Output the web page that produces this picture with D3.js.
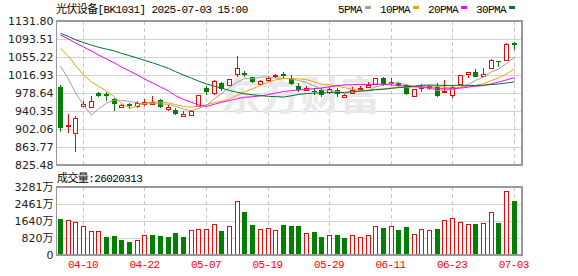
<!DOCTYPE html>
<html>
<head>
<meta charset="utf-8">
<script src="https://cdn.jsdelivr.net/npm/d3@7"></script>
<style>
  html, body { margin: 0; padding: 0; background: #fff; }
  svg { display: block; }
  .mono { font-family: "Liberation Mono", "Noto Sans CJK SC", monospace; font-size: 11px; letter-spacing: -0.6px; }
  .axis text { font-family: "DejaVu Sans", "Noto Sans CJK SC", sans-serif; font-size: 11px; fill: #222; }
  .axis path, .axis line { display: none; }
</style>
</head>
<body>
<svg id="chart" width="578" height="276"></svg>
<script>
// ---- data ----
const dates = ["04-07","04-08","04-09","04-10","04-11","04-14","04-15","04-16","04-17","04-18",
  "04-21","04-22","04-23","04-24","04-25","04-28","04-29","04-30","05-06","05-07",
  "05-08","05-09","05-12","05-13","05-14","05-15","05-16","05-19","05-20","05-21",
  "05-22","05-23","05-26","05-27","05-28","05-29","05-30","06-03","06-04","06-05",
  "06-06","06-09","06-10","06-11","06-12","06-13","06-16","06-17","06-18","06-19",
  "06-20","06-23","06-24","06-25","06-26","06-27","06-30","07-01","07-02","07-03"];

const open = [992, 908, 892.9, 951.8, 949.5, 978, 975.9, 965.9, 948.2, 954.6,
  950, 956, 955, 963.7, 945, 942.5, 929, 931.9, 951.6, 989,
  978, 1000.6, 995.7, 1019.1, 1020.6, 1012, 998.4, 1006.3, 1015.5, 1019,
  1009.9, 993.5, 985, 983, 985, 980, 985, 971, 978, 987.6,
  992, 997, 1009.9, 999, 999, 996, 973, 989, 989, 992,
  980.2, 974.4, 997.1, 1019.7, 1024, 1014.8, 1031.2, 1047, 1048.8, 1085.6];
const high = [995.7, 934, 930.4, 962, 972.3, 981.4, 980.2, 968.7, 955, 958,
  962.3, 965.2, 972.9, 966.6, 953, 946, 940, 943, 975, 993,
  1006.3, 1002.7, 1009, 1057.4, 1026, 1013, 1006, 1014.8, 1020, 1023,
  1016, 1000, 994, 990, 989, 991, 989, 977, 991, 993,
  1002, 1011, 1012, 1010, 1002, 998, 988, 997, 995, 999,
  1006, 994, 1017, 1023, 1029, 1031, 1050, 1047, 1084.4, 1087.8];
const low = [896.3, 894, 852.1, 949, 946.1, 970.8, 962.3, 941, 946, 944.6,
  946.1, 951, 953, 946, 940, 932, 928, 930, 950, 975,
  974.4, 983.6, 994, 1013.3, 1012, 999, 996, 1002.7, 1010, 1009,
  995, 981, 983, 975, 970, 977, 971, 968, 976, 983,
  990, 996, 993.5, 995, 991, 974, 972, 981, 985, 970,
  979, 968, 995, 1010, 1012, 1013, 1029, 1034.6, 1047, 1070.4];
const close = [904.8, 911, 924.8, 954.6, 962.3, 972.9, 972.3, 954.6, 953.1, 951.0,
  957, 960.5, 960, 948.2, 948, 933.4, 933, 941.1, 974.4, 981,
  1004.2, 986.5, 1007.8, 1031.2, 1017.6, 1001.4, 1004.2, 1010.5, 1017.6, 1015.5,
  997.1, 985, 990, 980, 974.4, 988, 975.9, 975, 986, 990,
  995.7, 1009.9, 997.8, 1002.7, 995.7, 976, 986.5, 992, 993, 972.3,
  982, 992, 1016.3, 1022.7, 1013.3, 1018.4, 1048.8, 1044.3, 1082.2, 1081.5];
const prevClose = 1050;

// volume in 万
const volume = [1737, 1672, 1576, 1383, 1142, 1142, 868, 917, 724, 627,
  708, 965, 949, 917, 868, 1061, 868, 1190, 1238, 1254,
  1479, 1158, 1383, 2605, 2074, 1447, 1238, 1286, 1190, 1447,
  1399, 1399, 1045, 1110, 884, 949, 965, 820, 949, 868,
  949, 1383, 1319, 1383, 1206, 1351, 997, 1238, 1190, 1254,
  1672, 1769, 1608, 1479, 1479, 1528, 2058, 1544, 3071, 2602];

const ma5 = [1036, 1008, 979, 953, 931.5, 945.1, 957.4, 963.3, 963.0, 960.8,
  957.6, 955.2, 956.3, 955.3, 954.7, 950.0, 944.5, 940.7, 946.0, 952.6,
  966.7, 977.4, 990.8, 1002.1, 1009.5, 1008.9, 1012.4, 1013.0, 1010.3, 1009.8,
  1009.0, 1005.1, 1001.0, 993.5, 985.3, 983.5, 981.7, 978.7, 979.9, 983.0,
  984.5, 991.3, 995.9, 999.2, 1000.4, 996.4, 991.7, 990.6, 988.6, 984.0,
  985.2, 986.3, 991.1, 997.1, 1005.3, 1012.5, 1023.9, 1029.5, 1041.4, 1055.0];
const ma10 = [1073.7, 1057, 1037, 1017, 1002, 993, 983, 970, 957, 946.1,
  951.4, 956.3, 959.8, 959.2, 957.8, 953.8, 949.9, 948.5, 950.7, 953.7,
  958.4, 961.0, 965.8, 974.1, 981.0, 987.8, 994.9, 1001.9, 1006.2, 1009.7,
  1008.9, 1008.8, 1007.0, 1001.9, 997.6, 996.2, 993.4, 989.9, 986.7, 984.1,
  984.0, 986.5, 987.3, 989.5, 991.7, 990.5, 991.5, 993.2, 993.9, 992.2,
  990.8, 989.0, 990.9, 992.9, 994.6, 998.9, 1005.1, 1010.3, 1019.2, 1030.2];
const ma20 = [1102, 1093.5, 1085, 1076.5, 1068, 1059.5, 1051, 1042.5, 1034, 1025.5,
  1017, 1008.5, 1000, 991.5, 983, 973, 965, 959, 953.5, 949.9,
  954.9, 958.6, 962.8, 966.6, 969.4, 970.8, 972.4, 975.2, 978.4, 981.7,
  983.7, 984.9, 986.4, 988.0, 989.3, 992.0, 994.2, 995.9, 996.4, 996.9,
  996.5, 997.6, 997.1, 995.7, 994.6, 993.4, 992.5, 991.5, 990.3, 988.2,
  987.4, 987.7, 989.1, 991.2, 993.1, 994.7, 998.3, 1001.8, 1006.6, 1011.2];
const ma30 = [1105.6, 1099, 1092, 1086, 1080.5, 1076, 1072, 1068, 1063, 1058,
  1053, 1048, 1043, 1037, 1031, 1024, 1017, 1010, 1004, 998,
  993, 989, 984, 980, 977, 975, 973, 971.5, 971, 969.8,
  972.9, 975.4, 977.5, 978.4, 978.8, 979.3, 979.4, 980.1, 981.2, 982.5,
  983.8, 985.4, 986.7, 988.5, 990.1, 991.5, 993.3, 995.0, 995.6, 995.3,
  994.6, 994.8, 995.0, 994.8, 994.6, 995.2, 996.7, 997.8, 1000.0, 1002.2];

const priceTicks = [825.48, 863.77, 902.06, 940.35, 978.64, 1016.93, 1055.22, 1093.51, 1131.80];
const volTicks = [0, 820, 1640, 2461, 3281];
const labelDates = ["04-10", "04-22", "05-07", "05-19", "05-29", "06-11", "06-23", "07-03"];
const maSeries = [
  { name: "5PMA", values: ma5, color: "#a0a0a0" },
  { name: "10PMA", values: ma10, color: "#f5a300" },
  { name: "20PMA", values: ma20, color: "#ff00ff" },
  { name: "30PMA", values: ma30, color: "#00703a" }
];
const title = "光伏设备[BK1031] 2025-07-03 15:00";
const lastVolume = "26020313";

const RED = "#ff0000";
const GREEN = "#008000";

const svg = d3.select("#chart");
const left = 56.5, right = 522;
const pTop = 21, pBottom = 165;
const vTop = 187, vBottom = 255;

const x = d3.scaleBand().domain(dates).range([56, 517.5]);
const cx = function (d) { return Math.round(x(d) + x.bandwidth() / 2); };
const y = d3.scaleLinear().domain([825.48, 1131.80]).range([pBottom, pTop]);
const yv = d3.scaleLinear().domain([0, 3281]).range([vBottom, vTop]);

const bars = dates.map(function (d, i) {
  return { date: d, o: open[i], h: high[i], l: low[i], c: close[i], v: volume[i],
    volUp: close[i] >= (i === 0 ? prevClose : close[i - 1]) };
});

// grid
const grid = svg.append("g").attr("shape-rendering", "crispEdges");
grid.selectAll(".hp").data(priceTicks.slice(1, -1)).enter().append("line")
  .attr("x1", left).attr("x2", right)
  .attr("y1", function (d) { return Math.round(y(d)) + 0.5; })
  .attr("y2", function (d) { return Math.round(y(d)) + 0.5; })
  .attr("stroke", "#d2d2d2");
grid.selectAll(".hv").data(volTicks.slice(1, -1)).enter().append("line")
  .attr("x1", left).attr("x2", right)
  .attr("y1", function (d) { return Math.round(yv(d)) + 0.5; })
  .attr("y2", function (d) { return Math.round(yv(d)) + 0.5; })
  .attr("stroke", "#d2d2d2");
[[pTop, pBottom], [vTop, vBottom]].forEach(function (r) {
  grid.selectAll(null).data(labelDates).enter().append("line")
    .attr("x1", function (d) { return cx(d) + 0.5; })
    .attr("x2", function (d) { return cx(d) + 0.5; })
    .attr("y1", r[0]).attr("y2", r[1])
    .attr("stroke", "#c8c8c8")
    .attr("stroke-dasharray", "4,3");
});

// watermark
svg.append("text")
  .attr("x", 300).attr("y", 110)
  .attr("text-anchor", "middle")
  .style("font-family", "'Noto Sans CJK SC'")
  .style("font-weight", "bold")
  .style("font-size", "40px")
  .attr("fill", "#e9e9e9")
  .text("东方财富");

// candles
const candle = svg.append("g").attr("shape-rendering", "crispEdges");
candle.selectAll(".wick").data(bars).enter().append("line")
  .attr("x1", function (d) { return cx(d.date) + 0.5; })
  .attr("x2", function (d) { return cx(d.date) + 0.5; })
  .attr("y1", function (d) { return Math.round(y(d.h)); })
  .attr("y2", function (d) { return Math.round(y(d.l)); })
  .attr("stroke", function (d) { return d.c >= d.o ? RED : GREEN; });
candle.selectAll(".body").data(bars).enter().append("rect")
  .attr("x", function (d) { return d.c >= d.o ? cx(d.date) - 1.5 : cx(d.date) - 2; })
  .attr("width", function (d) { return d.c >= d.o ? 4 : 5; })
  .attr("y", function (d) {
    const t = Math.round(y(Math.max(d.o, d.c)));
    return d.c >= d.o ? t + 0.5 : t;
  })
  .attr("height", function (d) {
    const h = Math.round(y(Math.min(d.o, d.c))) - Math.round(y(Math.max(d.o, d.c)));
    return d.c >= d.o ? Math.max(h, 1) : Math.max(h, 1);
  })
  .attr("fill", function (d) { return d.c >= d.o ? "#fff" : GREEN; })
  .attr("stroke", function (d) { return d.c >= d.o ? RED : "none"; });

// moving averages
const line = d3.line()
  .x(function (d, i) { return cx(dates[i]) + 0.5; })
  .y(function (d) { return y(d); });
svg.selectAll(".ma").data(maSeries).enter().append("path")
  .attr("d", function (s) { return line(s.values); })
  .attr("fill", "none")
  .attr("stroke", function (s) { return s.color; })
  .attr("stroke-width", 1);

// volume
const vol = svg.append("g").attr("shape-rendering", "crispEdges");
vol.selectAll(".vbar").data(bars).enter().append("rect")
  .attr("x", function (d) { return d.volUp ? cx(d.date) - 1.5 : cx(d.date) - 2; })
  .attr("width", function (d) { return d.volUp ? 4 : 5; })
  .attr("y", function (d) { return Math.round(yv(d.v)) + (d.volUp ? 0.5 : 0); })
  .attr("height", function (d) { return vBottom - Math.round(yv(d.v)) - (d.volUp ? 0.5 : 0); })
  .attr("fill", function (d) { return d.volUp ? "#fff" : GREEN; })
  .attr("stroke", function (d) { return d.volUp ? RED : "none"; });

// frames
const frame = svg.append("g").attr("shape-rendering", "crispEdges")
  .attr("fill", "none").attr("stroke", "#999").attr("stroke-width", 1.5);
frame.append("rect").attr("x", left).attr("y", pTop).attr("width", right - left).attr("height", pBottom - pTop);
frame.append("rect").attr("x", left).attr("y", vTop).attr("width", right - left).attr("height", vBottom - vTop);

// axes
svg.append("g").attr("class", "axis")
  .attr("transform", "translate(" + (left - 3) + ",0)")
  .call(d3.axisLeft(y).tickValues(priceTicks).tickSize(0).tickPadding(0).tickFormat(d3.format(".2f")));
svg.append("g").attr("class", "axis")
  .attr("transform", "translate(" + (left - 3) + ",0)")
  .call(d3.axisLeft(yv).tickValues(volTicks).tickSize(0).tickPadding(0)
    .tickFormat(function (d) { return d === 0 ? "0" : d + "万"; }));
svg.append("g").attr("class", "xaxis")
  .attr("transform", "translate(0," + (vBottom + 2) + ")")
  .call(d3.axisBottom(x).tickValues(labelDates).tickSize(0).tickPadding(3))
  .call(function (g) {
    g.select(".domain").remove();
    g.selectAll("text").attr("class", "mono").attr("fill", RED).attr("dy", "0.71em");
  });

// title, volume header, legend
svg.append("text").attr("class", "mono").attr("x", 56).attr("y", 13).attr("fill", "#000").text(title);
svg.append("text").attr("class", "mono").attr("x", 57).attr("y", 182).attr("fill", "#000").text("成交量:" + lastVolume);

let lx = 338;
maSeries.forEach(function (s) {
  const t = svg.append("text").attr("class", "mono").attr("x", lx).attr("y", 13).attr("fill", "#000").text(s.name);
  lx += t.node().getComputedTextLength() + 3;
  svg.append("rect").attr("x", lx).attr("y", 6).attr("width", 6).attr("height", 3).attr("fill", s.color);
  lx += 6 + 9;
});
</script>
</body>
</html>
